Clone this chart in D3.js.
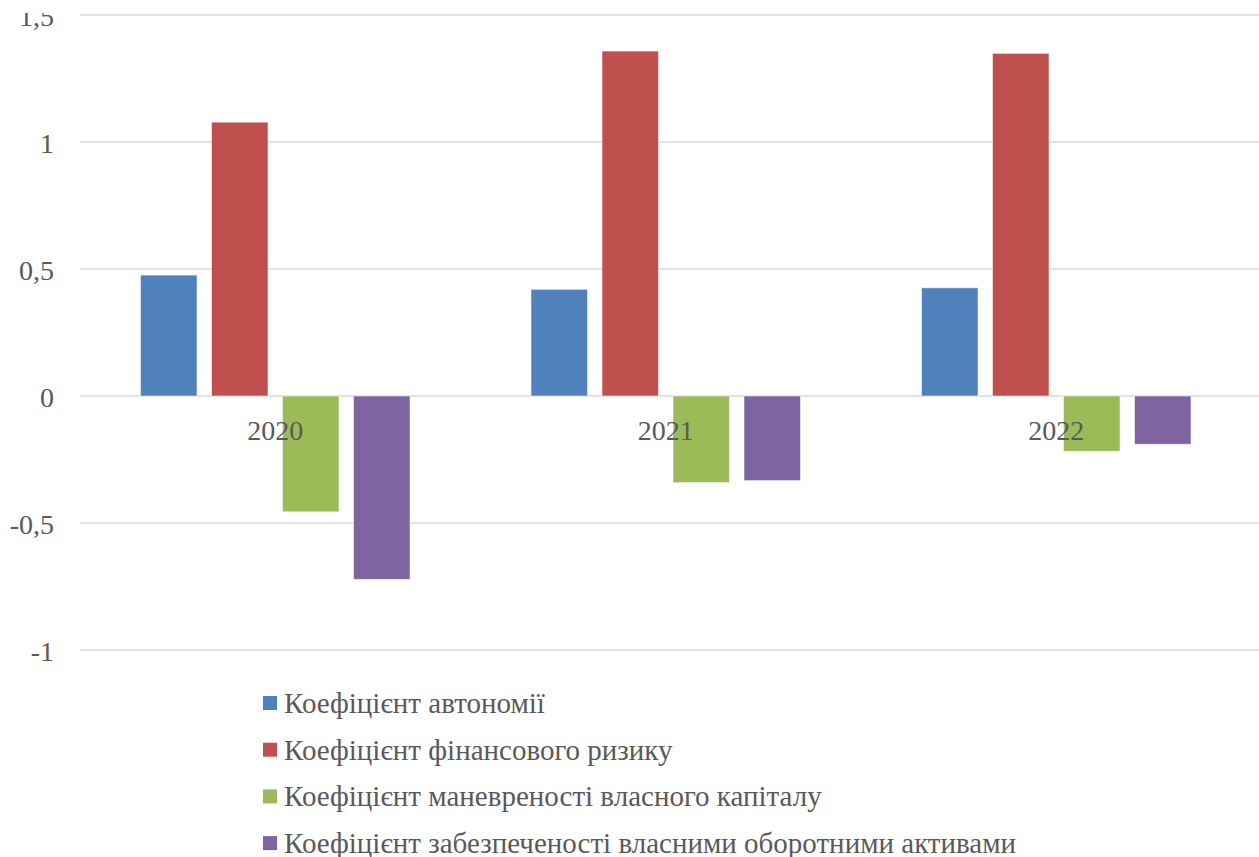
<!DOCTYPE html>
<html>
<head>
<meta charset="utf-8">
<script src="https://cdn.jsdelivr.net/npm/d3@7"></script>
<style>
  html, body { margin: 0; padding: 0; background: #fff; }
  svg { display: block; }
</style>
</head>
<body>
<svg id="chart" width="1259" height="857"></svg>
<script>
// Financial stability ratios by year
const years = ["2020", "2021", "2022"];
const seriesNames = [
  "Коефіцієнт автономії",
  "Коефіцієнт фінансового ризику",
  "Коефіцієнт маневреності власного капіталу",
  "Коефіцієнт забезпеченості власними оборотними активами"
];
const autonomy      = [0.476, 0.420, 0.426];
const financialRisk = [1.078, 1.358, 1.349];
const maneuverability = [-0.456, -0.341, -0.218];
const workingCapital  = [-0.722, -0.333, -0.190];
const seriesValues = [autonomy, financialRisk, maneuverability, workingCapital];
const colors = ["#4F81BD", "#C0504D", "#9BBB59", "#8064A2"];
const yTicks = [-1, -0.5, 0, 0.5, 1, 1.5];

const FONT = "\"Liberation Serif\", \"Times New Roman\", serif";
const svg = d3.select("#chart");
const plot = { left: 80, right: 1251.5, top: 15, bottom: 650 };

const y = d3.scaleLinear().domain([-1, 1.5]).range([plot.bottom, plot.top]);
const x0 = d3.scaleBand().domain(years).range([plot.left, plot.right]).padding(0);
const x1 = d3.scaleBand().domain(d3.range(seriesNames.length))
  .range([0, x0.bandwidth()]).paddingInner(0.204).paddingOuter(0.852);

const fmt = v => String(v).replace(".", ",");

// Horizontal gridlines
svg.append("g")
  .selectAll("line")
  .data(yTicks)
  .join("line")
  .attr("x1", plot.left).attr("x2", 1259)
  .attr("y1", d => y(d)).attr("y2", d => y(d))
  .attr("stroke", "#d9d9d9").attr("stroke-width", 1.5);

// Value axis labels (the top one sits partly above the visible area)
svg.append("defs").append("clipPath").attr("id", "labelClip")
  .append("rect").attr("x", -60).attr("y", 13).attr("width", 80).attr("height", 700);

const yAxis = svg.append("g")
  .attr("transform", `translate(54,0)`)
  .attr("clip-path", "url(#labelClip)")
  .call(d3.axisLeft(y).tickValues(yTicks).tickFormat(fmt).tickSize(0).tickPadding(0));
yAxis.attr("font-family", null).attr("font-size", null);
yAxis.select(".domain").remove();
yAxis.selectAll("text")
  .attr("dy", "0.36em")
  .attr("font-family", FONT)
  .attr("font-size", 28)
  .attr("fill", "#595959");

// Bars
const groups = svg.append("g")
  .selectAll("g")
  .data(years)
  .join("g")
  .attr("transform", d => `translate(${x0(d)},0)`);

groups.selectAll("rect")
  .data((yr, i) => seriesValues.map((vals, s) => ({ s, v: vals[i] })))
  .join("rect")
  .attr("x", d => x1(d.s))
  .attr("width", x1.bandwidth())
  .attr("y", d => y(Math.max(0, d.v)))
  .attr("height", d => Math.abs(y(d.v) - y(0)))
  .attr("fill", d => colors[d.s])
  .attr("stroke", "#ffffff")
  .attr("stroke-opacity", 0.55)
  .attr("stroke-width", 1);

// Category labels drawn next to the zero line
const xAxis = svg.append("g")
  .attr("transform", `translate(0,${y(0)})`)
  .call(d3.axisBottom(x0).tickSize(0).tickPadding(0));
xAxis.attr("font-family", null).attr("font-size", null);
xAxis.select(".domain").remove();
xAxis.selectAll("text")
  .attr("dy", null)
  .attr("y", 44)
  .attr("font-family", FONT)
  .attr("font-size", 28)
  .attr("fill", "#595959");

// Legend
const legend = svg.append("g").attr("transform", "translate(263,703)");
const rows = legend.selectAll("g")
  .data(seriesNames)
  .join("g")
  .attr("transform", (d, i) => `translate(0,${i * 46.7})`);
rows.append("rect")
  .attr("x", 0).attr("y", -7)
  .attr("width", 14).attr("height", 14)
  .attr("fill", (d, i) => colors[i]);
rows.append("text")
  .attr("x", 21).attr("y", 0).attr("dy", "0.34em")
  .attr("font-family", FONT)
  .attr("font-size", 29)
  .attr("fill", "#595959")
  .text(d => d);
</script>
</body>
</html>
